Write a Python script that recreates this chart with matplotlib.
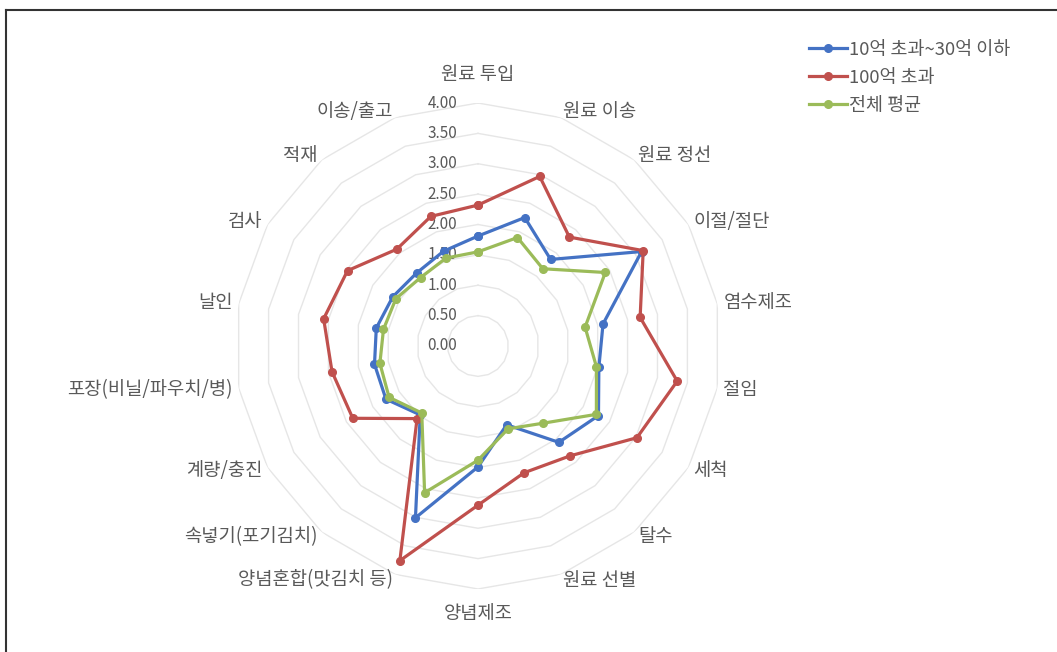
import numpy as np
import matplotlib
matplotlib.use("Agg")
import matplotlib.pyplot as plt
from matplotlib.lines import Line2D

plt.rcParams['font.family'] = ['Noto Sans CJK KR', 'DejaVu Sans']

categories = ["원료 투입", "원료 이송", "원료 정선", "이절/절단", "염수제조", "절임", "세척",
              "탈수", "원료 선별", "양념제조", "양념혼합(맛김치 등)", "속넣기(포기김치)",
              "계량/충진", "포장(비닐/파우치/병)", "날인", "검사", "적재", "이송/출고"]
series_names = ["10억 초과~30억 이하", "100억 초과", "전체 평균"]
blue_vals = [1.81, 2.25, 1.86, 3.11, 2.09, 2.02, 2.29, 2.07, 1.38, 1.99, 3.01, 1.48,
             1.75, 1.73, 1.70, 1.62, 1.57, 1.66]
red_vals = [2.32, 2.97, 2.34, 3.14, 2.71, 3.33, 3.02, 2.36, 2.22, 2.62, 3.76, 1.56,
            2.38, 2.44, 2.58, 2.48, 2.08, 2.27]
green_vals = [1.55, 1.90, 1.66, 2.42, 1.79, 1.98, 2.25, 1.66, 1.45, 1.88, 2.57, 1.44,
              1.69, 1.64, 1.58, 1.56, 1.47, 1.54]
r_ticks = [0.0, 0.5, 1.0, 1.5, 2.0, 2.5, 3.0, 3.5, 4.0]

colors = ["#4472C4", "#C0504D", "#9BBB59"]
text_color = "#595959"

W, H = 1057, 652
fig = plt.figure(figsize=(W / 100, H / 100), dpi=100)
fig.patch.set_facecolor("white")

cx, cy, R = 478, 346, 243
ax = fig.add_axes([(cx - R) / W, (H - cy - R) / H, 2 * R / W, 2 * R / H], projection="polar")
ax.set_theta_zero_location("N")
ax.set_theta_direction(-1)
ax.set_ylim(0, 4.0)
ax.grid(False)
ax.set_xticks([])
ax.set_yticks([])
ax.spines["polar"].set_visible(False)
ax.patch.set_alpha(0)

n = len(categories)
theta = np.deg2rad(np.arange(n) * 360.0 / n)
theta_c = np.append(theta, theta[0])

# polygon gridlines
for r in r_ticks[1:]:
    ax.plot(theta_c, [r] * (n + 1), color="#e6e6e6", lw=1.0, zorder=1)

# tick labels
for r in r_ticks:
    ax.annotate(f"{r:.2f}", xy=(0, r), xytext=(-15, 0), textcoords="offset points",
                ha="right", va="center", fontsize=11, color=text_color)

# category labels
for i, lab in enumerate(categories):
    a = theta[i]
    s, c = np.sin(a), np.cos(a)
    if abs(s) < 0.01:
        rr = 4.47 if c > 0 else 4.4
        ha = "center"
    else:
        rr = 4.1
        ha = "left" if s > 0 else "right"
    ax.text(a, rr, lab, ha=ha, va="center", fontsize=13.5, color=text_color, clip_on=False)

# data series
handles = []
for vals, col, name in zip([blue_vals, red_vals, green_vals], colors, series_names):
    v = np.append(vals, vals[0])
    h, = ax.plot(theta_c, v, color=col, lw=2.3, marker="o", markersize=5.5,
                 markerfacecolor=col, markeredgecolor=col, zorder=3, label=name)
    handles.append(h)

leg = fig.legend(handles=handles, loc="upper left",
                 bbox_to_anchor=(792 / W, 1 - 24 / H), frameon=False,
                 fontsize=13.3, handlelength=2.1, handletextpad=0.1, labelspacing=0.55)
for t in leg.get_texts():
    t.set_color(text_color)

# border
fig.add_artist(Line2D([6 / W, 1.0], [1 - 10 / H, 1 - 10 / H], transform=fig.transFigure,
                      color="#333333", lw=1.5))
fig.add_artist(Line2D([6 / W, 6 / W], [0, 1 - 10 / H], transform=fig.transFigure,
                      color="#333333", lw=1.5))

fig.savefig("out.png", dpi=100, facecolor="white")
